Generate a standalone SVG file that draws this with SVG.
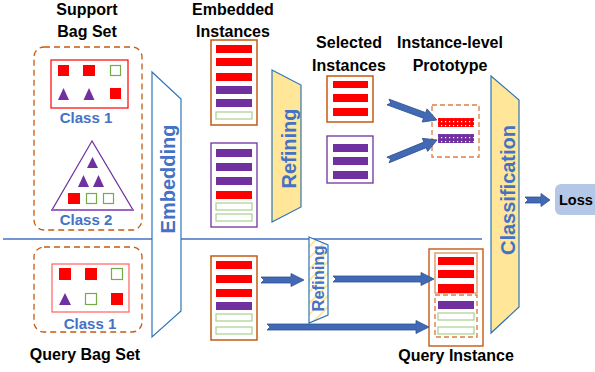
<svg xmlns="http://www.w3.org/2000/svg" width="595" height="372" viewBox="0 0 595 372">
<defs>
<pattern id="dotRed" width="4" height="4" patternUnits="userSpaceOnUse"><rect width="4" height="4" fill="#FF0000"/><rect x="1" y="1" width="1.2" height="1.2" fill="#FFFFFF"/></pattern>
<pattern id="dotPur" width="4" height="4" patternUnits="userSpaceOnUse"><rect width="4" height="4" fill="#7030A0"/><rect x="1" y="1" width="1.2" height="1.2" fill="#FFFFFF"/></pattern>
<pattern id="stripe" width="8" height="8" patternUnits="userSpaceOnUse" patternTransform="rotate(-45)"><rect width="8" height="8" fill="#FFFFFF"/><rect width="8" height="2" fill="#FFE699"/></pattern>
</defs>
<style>
.t{font-family:"Liberation Sans",Arial,sans-serif;font-weight:bold;fill:#000;font-size:16px;text-anchor:middle}
.cl{font-family:"Liberation Sans",Arial,sans-serif;font-weight:bold;fill:#4472C4;font-size:15px;text-anchor:middle}
.rot{font-family:"Liberation Sans",Arial,sans-serif;font-weight:bold;fill:#4472C4;font-size:20px;text-anchor:middle}
.dash{fill:none;stroke:#C55A11;stroke-width:1.3;stroke-dasharray:6 4}
.box{fill:#FFFFFF;stroke:#C55A11;stroke-width:1.5}
.pbox{fill:#FFFFFF;stroke:#7030A0;stroke-width:1.3}
.r{fill:#FF0000}
.p{fill:#7030A0}
.g{fill:#FFFFFF;stroke:#A9D18E;stroke-width:1.2}
.gs{fill:#FFFFFF;stroke:#70AD47;stroke-width:1.2}
.lay{stroke:#2E75B6;stroke-width:1.2}
.arr{fill:#4169B5;stroke:#2F528F;stroke-width:0.8}
</style>

<line x1="3" y1="239" x2="482" y2="239" stroke="#4472C4" stroke-width="1.5"/>

<g id="support-bag-set">
<text class="t" x="87" y="15">Support</text>
<text class="t" x="87" y="37">Bag Set</text>
<rect class="dash" x="34" y="47" width="108" height="183" rx="10"/>
<g id="support-class1">
<rect x="51" y="60" width="77" height="48" fill="#FFFFFF" stroke="#FF0000" stroke-width="1.2"/>
<rect class="r" x="58" y="65" width="11" height="11"/>
<rect class="r" x="83" y="65" width="12" height="11"/>
<rect class="gs" x="110.5" y="65.5" width="10" height="10"/>
<polygon class="p" points="63.5,88 58,100 69,100"/>
<polygon class="p" points="89,88 83.5,100 94.5,100"/>
<rect class="r" x="110" y="88" width="11" height="11"/>
<text class="cl" x="86" y="123">Class 1</text>
</g>
<g id="support-class2">
<polygon points="92,141 52,210 133,210" fill="#FFFFFF" stroke="#7030A0" stroke-width="1.2"/>
<line x1="51" y1="210" x2="134" y2="210" stroke="#9966CC" stroke-width="2"/>
<polygon class="p" points="92.5,157 87,168 98,168"/>
<polygon class="p" points="83.5,175 78,187 89,187"/>
<polygon class="p" points="98.5,175 93,187 104,187"/>
<rect class="r" x="68" y="193" width="12" height="11"/>
<rect class="gs" x="86.5" y="193.5" width="10" height="10"/>
<rect class="gs" x="103.5" y="193.5" width="10" height="10"/>
<text class="cl" x="86" y="225">Class 2</text>
</g>
</g>

<g id="query-bag-set">
<rect class="dash" x="34" y="247" width="108" height="85" rx="10"/>
<rect x="52" y="264" width="77" height="48" fill="#FFFFFF" stroke="#FF6060" stroke-width="1.2"/>
<rect class="r" x="59" y="268" width="12" height="12"/>
<rect class="r" x="85" y="268" width="12" height="12"/>
<rect class="gs" x="111.5" y="268.5" width="11" height="11"/>
<polygon class="p" points="65,293 59,305 71,305"/>
<rect class="gs" x="85.5" y="293.5" width="11" height="11"/>
<rect class="r" x="111" y="293" width="12" height="12"/>
<text class="cl" x="90" y="329">Class 1</text>
<text class="t" x="85" y="360">Query Bag Set</text>
</g>

<g id="embedding">
<polygon class="lay" points="152,72 181,99 181,311 152,337" fill="#FFFFFF"/>
<text class="rot" transform="translate(175,179) rotate(-90)" x="0" y="0">Embedding</text>
</g>

<g id="embedded-instances">
<text class="t" x="233" y="15">Embedded</text>
<text class="t" x="233" y="37">Instances</text>
<g id="embedded-class1">
<rect class="box" x="211" y="40" width="46" height="85"/>
<rect class="r" x="216" y="45" width="36" height="8"/>
<rect class="r" x="216" y="58" width="36" height="8"/>
<rect class="r" x="216" y="73" width="36" height="8"/>
<rect class="p" x="216" y="86" width="36" height="8"/>
<rect class="p" x="216" y="99" width="36" height="8"/>
<rect class="g" x="216" y="112" width="36" height="7"/>
</g>
<g id="embedded-class2">
<rect class="pbox" x="211" y="143" width="46" height="84"/>
<rect class="p" x="216" y="149" width="36" height="8"/>
<rect class="p" x="216" y="163" width="36" height="8"/>
<rect class="p" x="216" y="177" width="36" height="8"/>
<rect class="r" x="216" y="191" width="36" height="8"/>
<rect class="g" x="216" y="203" width="36" height="7"/>
<rect class="g" x="216" y="214" width="36" height="7"/>
</g>
</g>

<g id="refining">
<polygon class="lay" points="272,70 301,85 301,207 272,222" fill="#FFE699"/>
<text class="rot" transform="translate(296,148.5) rotate(-90)" x="0" y="0">Refining</text>
</g>

<g id="selected-instances">
<text class="t" x="349" y="48">Selected</text>
<text class="t" x="349" y="71">Instances</text>
<g id="selected-class1">
<rect class="box" x="327" y="76" width="46" height="46"/>
<rect class="r" x="333" y="81" width="35" height="7"/>
<rect class="r" x="333" y="94" width="35" height="8"/>
<rect class="r" x="333" y="108" width="35" height="8"/>
</g>
<g id="selected-class2">
<rect class="pbox" x="327" y="136" width="46" height="47"/>
<rect class="p" x="333" y="144" width="35" height="8"/>
<rect class="p" x="333" y="157" width="35" height="8"/>
<rect class="p" x="333" y="171" width="35" height="8"/>
</g>
</g>

<g id="prototype">
<text class="t" x="450" y="48">Instance-level</text>
<text class="t" x="450" y="71">Prototype</text>
<rect x="432" y="105" width="47" height="52" fill="none" stroke="#D9804A" stroke-width="1.3" stroke-dasharray="5 3"/>
<rect x="438" y="118" width="36" height="9" fill="url(#dotRed)"/>
<rect x="438" y="134" width="36" height="9" fill="url(#dotPur)"/>
</g>

<g id="classification">
<polygon class="lay" points="491,76 519,100 519,307 491,333" fill="#FFE699"/>
<text class="rot" transform="translate(515,190) rotate(-90)" x="0" y="0">Classification</text>
</g>

<g id="loss">
<path d="M561,184 H595 V215 H561 A6,6 0 0 1 555,209 V190 A6,6 0 0 1 561,184 Z" fill="#B4C7E7"/>
<text x="559" y="205" font-family="Liberation Sans, Arial, sans-serif" font-weight="bold" font-size="14.5" fill="#000">Loss</text>
</g>

<g id="query-embedded">
<rect class="box" x="211" y="256" width="46" height="84"/>
<rect class="r" x="216" y="261" width="36" height="8"/>
<rect class="r" x="216" y="275" width="36" height="8"/>
<rect class="r" x="216" y="289" width="36" height="8"/>
<rect class="p" x="216" y="302" width="36" height="8"/>
<rect class="g" x="216" y="314" width="36" height="7"/>
<rect class="g" x="216" y="327" width="36" height="7"/>
</g>

<g id="query-refining">
<polygon class="lay" points="309,237 328,245 328,315 309,323" fill="url(#stripe)"/>
<text class="rot" style="font-size:16.5px" transform="translate(324,278.5) rotate(-90)" x="0" y="0">Refining</text>
</g>

<g id="query-instance">
<rect x="429" y="249" width="54" height="97" fill="#FFFFFF" stroke="#C55A11" stroke-width="1.4"/>
<rect x="435" y="253" width="42" height="40" fill="none" stroke="#E0A070" stroke-width="1.5"/>
<rect x="435" y="295" width="42" height="42" fill="none" stroke="#D9804A" stroke-width="1.4" stroke-dasharray="5 3"/>
<rect class="r" x="438" y="257" width="36" height="8"/>
<rect class="r" x="438" y="270" width="36" height="8"/>
<rect class="r" x="438" y="284" width="36" height="9"/>
<rect class="p" x="438" y="301" width="36" height="8"/>
<rect class="g" x="438" y="313" width="36" height="7"/>
<rect class="g" x="438" y="327" width="36" height="7"/>
<text class="t" x="456" y="361">Query Instance</text>
</g>

<g id="connectors">
<polygon class="arr" transform="translate(388,102) rotate(20.2)" points="0,-3 39,-3 39,-7 52,0 39,7 39,3 0,3 3,0"/>
<polygon class="arr" transform="translate(388,160) rotate(-22.2)" points="0,-3 40,-3 40,-7 53,0 40,7 40,3 0,3 3,0"/>
<polygon class="arr" points="525,197 541,197 541,193.5 550,200 541,206.5 541,203 525,203 528,200"/>
<polygon class="arr" points="261,277 291,277 291,273.5 304,280 291,286.5 291,283 261,283 264,280"/>
<polygon class="arr" points="333,276 421,276 421,272.5 434,279 421,285.5 421,282 333,282 336,279"/>
<polygon class="arr" points="267,324 416,324 416,320.5 429,327 416,333.5 416,330 267,330 270,327"/>
</g>
</svg>
